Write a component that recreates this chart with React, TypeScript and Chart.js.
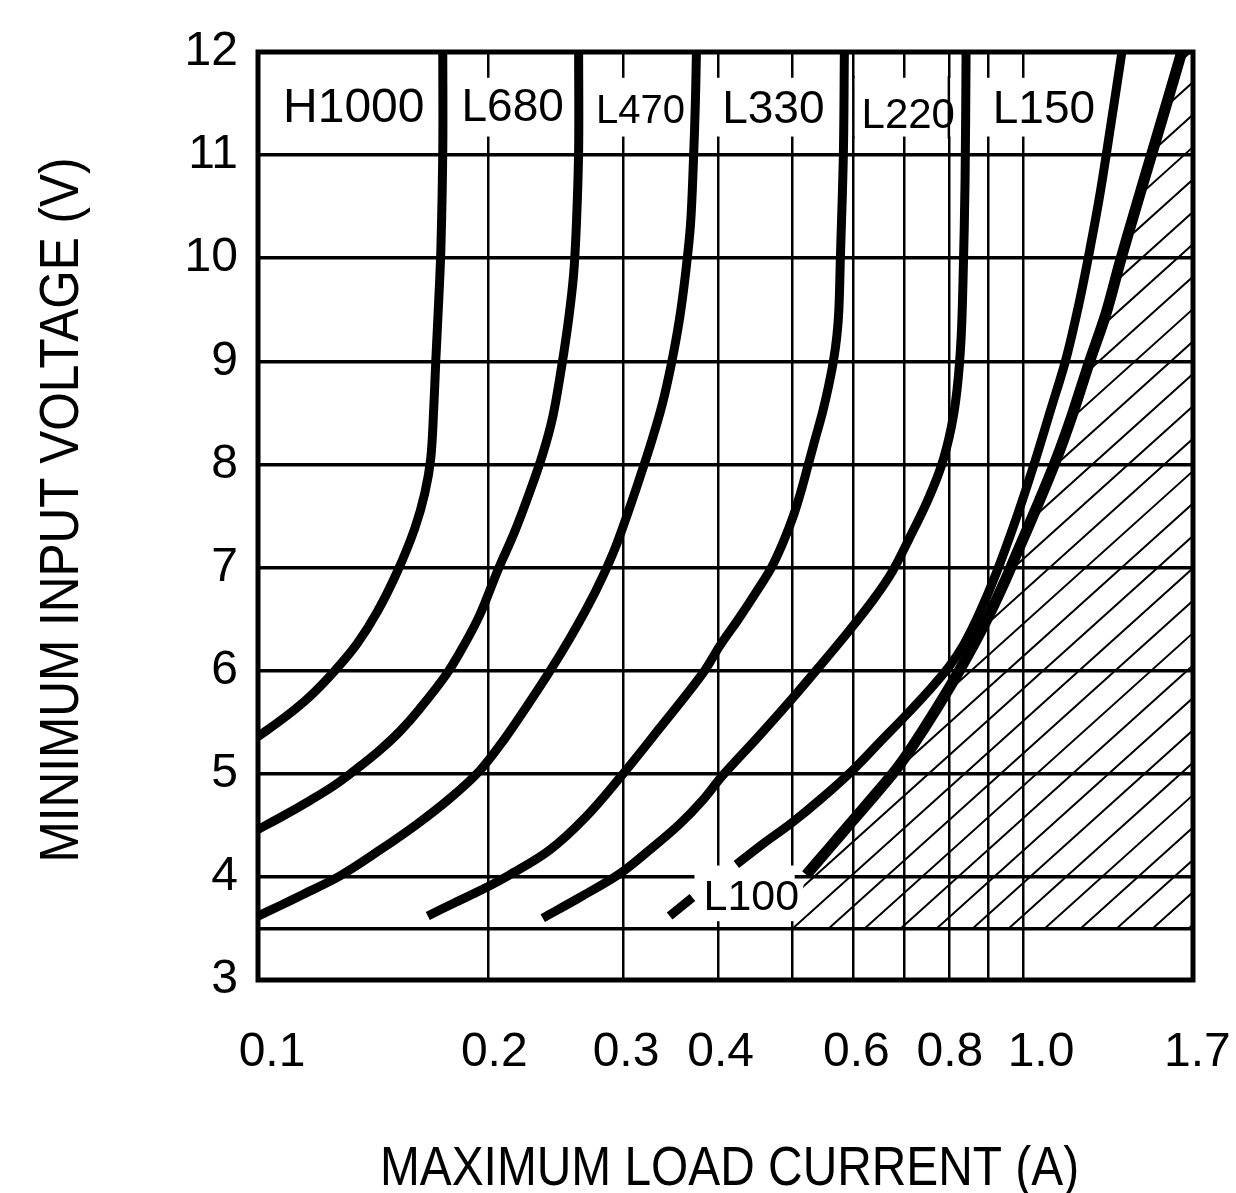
import React, { useEffect, useRef } from 'react';
import { Chart, registerables } from 'chart.js';

Chart.register(...registerables);

// ---- axis ticks ----
const xTickValues = [0.1, 0.2, 0.3, 0.4, 0.5, 0.6, 0.7, 0.8, 0.9, 1.0, 1.7];
const xTickLabels = ['0.1', '0.2', '0.3', '0.4', '', '0.6', '', '0.8', '', '1.0', '1.7'];
const yTickValues = [3, 3.5, 4, 5, 6, 7, 8, 9, 10, 11, 12];
const yTickLabels = ['3', '', '4', '5', '6', '7', '8', '9', '10', '11', '12'];
const xMin = 0.1;
const xMax = 1.668;
const yMin = 3;
const yMax = 12;

const xTitle = 'MAXIMUM LOAD CURRENT (A)';
const yTitle = 'MINIMUM INPUT VOLTAGE (V)';

// ---- curves (x = load current A, y = min input voltage V) ----
const h1000X = [0.1, 0.1085, 0.1169, 0.126, 0.1347, 0.1434, 0.1523, 0.1603, 0.1652, 0.1682, 0.1697, 0.1708, 0.1723, 0.1734, 0.1744, 0.1744];
const h1000Y = [5.36, 5.55, 5.75, 6.0, 6.26, 6.58, 6.97, 7.38, 7.72, 8.06, 8.54, 9.02, 9.6, 10.09, 11.06, 12];

const l680X = [0.1, 0.1078, 0.1169, 0.126, 0.1347, 0.1443, 0.1532, 0.1627, 0.1765, 0.1863, 0.1949, 0.2057, 0.2166, 0.2265, 0.2356, 0.2428, 0.2494, 0.2547, 0.2586, 0.2609, 0.2625, 0.2625];
const l680Y = [4.46, 4.59, 4.74, 4.89, 5.05, 5.23, 5.41, 5.63, 5.97, 6.26, 6.54, 6.97, 7.35, 7.73, 8.1, 8.46, 8.95, 9.41, 9.85, 10.38, 11.06, 12];

const l470X = [0.1, 0.1068, 0.1145, 0.128, 0.1443, 0.1613, 0.1781, 0.1949, 0.2101, 0.2244, 0.2405, 0.2555, 0.2697, 0.2821, 0.2934, 0.3041, 0.3152, 0.3268, 0.3378, 0.3471, 0.3556, 0.3621, 0.3676, 0.3709, 0.3731, 0.3742];
const l470Y = [3.62, 3.72, 3.83, 4.01, 4.26, 4.51, 4.76, 5.03, 5.34, 5.65, 5.99, 6.31, 6.62, 6.91, 7.2, 7.52, 7.86, 8.22, 8.59, 8.98, 9.41, 9.85, 10.33, 10.96, 11.54, 12];

const l330X = [0.1667, 0.1808, 0.1967, 0.2133, 0.2405, 0.2673, 0.297, 0.3348, 0.381, 0.4022, 0.4246, 0.4468, 0.4689, 0.4861, 0.5009, 0.5131, 0.524, 0.5351, 0.5467, 0.5566, 0.5651, 0.5711, 0.5745, 0.5771, 0.5823, 0.5841];
const l330Y = [3.62, 3.75, 3.88, 4.02, 4.26, 4.57, 4.96, 5.44, 5.97, 6.25, 6.5, 6.75, 7.0, 7.25, 7.5, 7.75, 8.0, 8.25, 8.5, 8.75, 9.0, 9.25, 9.5, 10, 11, 12];

const l220X = [0.2356, 0.2633, 0.297, 0.3249, 0.3556, 0.381, 0.4046, 0.4522, 0.4993, 0.5418, 0.5929, 0.6389, 0.6745, 0.7098, 0.7493, 0.7815, 0.8053, 0.82, 0.8299, 0.8349, 0.84, 0.8425];
const l220Y = [3.6, 3.8, 4.03, 4.26, 4.51, 4.74, 4.98, 5.37, 5.73, 6.04, 6.39, 6.7, 6.96, 7.28, 7.64, 7.98, 8.35, 8.73, 9.22, 9.8, 10.77, 12];

const l100DashX = [0.3452, 0.3697];
const l100DashY = [3.62, 3.8];
const l100X = [0.422, 0.459, 0.4978, 0.545, 0.598, 0.6486, 0.7036, 0.7539, 0.8006, 0.8375, 0.8761, 0.922, 0.9792, 1.0336, 1.0878, 1.1379, 1.1835, 1.2232, 1.2605, 1.3029, 1.3467];
const l100Y = [4.12, 4.33, 4.52, 4.76, 5.03, 5.3, 5.57, 5.81, 6.04, 6.26, 6.55, 6.94, 7.47, 8.0, 8.54, 9.02, 9.56, 10.09, 10.62, 11.3, 12];

const l150X = [0.5208, 0.5583, 0.598, 0.6428, 0.6888, 0.7425, 0.8006, 0.8502, 0.9029, 0.9445, 0.9792, 1.0398, 1.1041, 1.1585, 1.2195, 1.2834, 1.3425, 1.4044, 1.4692, 1.5368, 1.6125];
const l150Y = [4.02, 4.28, 4.54, 4.81, 5.08, 5.44, 5.83, 6.17, 6.54, 6.85, 7.12, 7.57, 8.04, 8.47, 8.98, 9.46, 9.99, 10.49, 10.98, 11.47, 12];

const topLabelTexts = ['H1000', 'L680', 'L470', 'L330', 'L220', 'L150'];
const bottomLabelText = 'L100';

// ---- layout / style (not data) ----
const FONT = '"Liberation Sans", Arial, Helvetica, sans-serif';
const topLabelPos = [
  { x: 0.1334, y: 11.49, size: 48 },
  { x: 0.2152, y: 11.49, size: 46 },
  { x: 0.3162, y: 11.45, size: 40 },
  { x: 0.4717, y: 11.47, size: 46 },
  { x: 0.7079, y: 11.41, size: 42 },
  { x: 1.065, y: 11.47, size: 46 },
];
const bottomLabelPos = { x: 0.4414, y: 3.83, size: 43 };
const xLabelShift = [14, 6, 3, 2, 0, 3, 0, 1, 0, 18, -2];

const toPts = (xs: number[], ys: number[]) => xs.map((x, i) => ({ x, y: ys[i] }));

const decorPlugin = {
  id: 'decor',
  beforeDatasetsDraw(chart: any) {
    const { ctx, chartArea: ca } = chart;
    const xs = chart.scales.x;
    const ys = chart.scales.y;
    const X = (v: number) => xs.getPixelForValue(v);
    const Y = (v: number) => ys.getPixelForValue(v);

    ctx.save();
    // white band for top labels
    ctx.fillStyle = '#fff';
    const bandTop = Y(11.75);
    const bandBot = Y(11.18);
    ctx.fillRect(ca.left + 3, bandTop, X(1.0) + 40 - ca.left - 3, bandBot - bandTop);
    // gridlines that stay continuous through the band
    ctx.strokeStyle = '#000';
    ctx.lineWidth = 2.5;
    [0.6, 0.8].forEach((v) => {
      ctx.beginPath();
      ctx.moveTo(X(v), bandTop - 2);
      ctx.lineTo(X(v), bandBot + 2);
      ctx.stroke();
    });
    // white box for bottom label
    ctx.fillStyle = '#fff';
    ctx.fillRect(X(0.372), Y(4.11), X(0.503) - X(0.372), Y(3.57) - Y(4.11));

    // hatched region (right of the boundary curve)
    ctx.save();
    ctx.beginPath();
    ctx.moveTo(X(0.5), Y(3.5));
    for (let i = 0; i < l150X.length; i++) ctx.lineTo(X(l150X[i]), Y(l150Y[i]));
    ctx.lineTo(ca.right, ca.top);
    ctx.lineTo(ca.right, Y(3.5));
    ctx.closePath();
    ctx.clip();
    ctx.strokeStyle = '#000';
    ctx.lineWidth = 2;
    const x0 = X(0.5);
    const yb = Y(3.5);
    const spacing = 36;
    const s = 0.9;
    const L = 2000;
    ctx.beginPath();
    for (let k = -80; k < 80; k++) {
      const xk = x0 + spacing * k;
      ctx.moveTo(xk - L, yb + L * s);
      ctx.lineTo(xk + L, yb - L * s);
    }
    ctx.stroke();
    ctx.restore();

    // labels
    ctx.fillStyle = '#000';
    ctx.textAlign = 'center';
    ctx.textBaseline = 'alphabetic';
    topLabelTexts.forEach((t, i) => {
      const p = topLabelPos[i];
      ctx.font = `${p.size}px ${FONT}`;
      ctx.fillText(t, X(p.x), Y(p.y) + p.size * 0.358);
    });
    ctx.font = `${bottomLabelPos.size}px ${FONT}`;
    ctx.fillText(bottomLabelText, X(bottomLabelPos.x), Y(bottomLabelPos.y) + bottomLabelPos.size * 0.358);
    ctx.restore();
  },
  afterDatasetsDraw(chart: any) {
    const { ctx, chartArea: ca } = chart;
    ctx.save();
    ctx.strokeStyle = '#000';
    ctx.lineWidth = 5;
    ctx.strokeRect(ca.left, ca.top, ca.right - ca.left, ca.bottom - ca.top);
    ctx.restore();
  },
  afterDraw(chart: any) {
    const { ctx, chartArea: ca } = chart;
    const xs = chart.scales.x;
    ctx.save();
    ctx.fillStyle = '#000';
    // x tick labels
    ctx.font = `48px ${FONT}`;
    ctx.textAlign = 'center';
    ctx.textBaseline = 'alphabetic';
    xTickValues.forEach((v, i) => {
      if (!xTickLabels[i]) return;
      ctx.fillText(xTickLabels[i], xs.getPixelForValue(v) + xLabelShift[i], ca.bottom + 86);
    });
    // axis titles
    ctx.font = `55px ${FONT}`;
    ctx.save();
    ctx.translate((ca.left + ca.right) / 2 + 4, 1185);
    ctx.scale(0.87, 1);
    ctx.fillText(xTitle, 0, 0);
    ctx.restore();
    ctx.save();
    ctx.translate(78, (ca.top + ca.bottom) / 2 - 6);
    ctx.rotate(-Math.PI / 2);
    ctx.scale(0.9, 1);
    ctx.fillText(yTitle, 0, 0);
    ctx.restore();
    ctx.restore();
  },
};

export default function App() {
  const ref = useRef<HTMLCanvasElement | null>(null);

  useEffect(() => {
    if (!ref.current) return;
    const line = (label: string, xs: number[], ys: number[], w: number) => ({
      label,
      data: toPts(xs, ys),
      showLine: true,
      borderColor: '#000',
      backgroundColor: '#000',
      borderWidth: w,
      pointRadius: 0,
      tension: 0.35,
      borderCapStyle: 'butt',
      borderJoinStyle: 'round',
      fill: false,
    });
    const chart = new Chart(ref.current, {
      type: 'scatter',
      data: {
        datasets: [
          line('H1000', h1000X, h1000Y, 9),
          line('L680', l680X, l680Y, 9),
          line('L470', l470X, l470Y, 9),
          line('L330', l330X, l330Y, 9),
          line('L220', l220X, l220Y, 9),
          line('L100', l100DashX, l100DashY, 9),
          line('L100 ', l100X, l100Y, 9),
          line('L150', l150X, l150Y, 11),
        ] as any,
      },
      options: {
        animation: false,
        responsive: false,
        devicePixelRatio: 1,
        events: [],
        layout: { padding: { top: 52, right: 43, left: 0, bottom: 0 } },
        plugins: { legend: { display: false }, tooltip: { enabled: false } },
        scales: {
          x: {
            type: 'logarithmic',
            min: xMin,
            max: xMax,
            afterBuildTicks: (scale: any) => {
              scale.ticks = xTickValues.map((v) => ({ value: v }));
            },
            afterFit: (scale: any) => {
              scale.height = 213;
            },
            grid: {
              color: '#000',
              lineWidth: (c: any) => (c.index === 0 || c.index === xTickValues.length - 1 ? 0 : 2.5),
              drawTicks: false,
            },
            border: { display: false },
            ticks: {
              display: false,
              autoSkip: false,
              callback: (_v: any, i: number) => xTickLabels[i],
            },
          },
          y: {
            type: 'linear',
            min: yMin,
            max: yMax,
            afterBuildTicks: (scale: any) => {
              scale.ticks = yTickValues.map((v) => ({ value: v }));
            },
            afterFit: (scale: any) => {
              scale.width = 258;
            },
            grid: {
              color: '#000',
              lineWidth: (c: any) => (c.index === 0 || c.index === yTickValues.length - 1 ? 0 : 3.5),
              drawTicks: false,
            },
            border: { display: false },
            ticks: {
              autoSkip: false,
              padding: 20,
              color: '#000',
              font: { size: 48, family: FONT },
              callback: (_v: any, i: number) => yTickLabels[i],
            },
          },
        },
      } as any,
      plugins: [decorPlugin],
    });
    return () => chart.destroy();
  }, []);

  return (
    <div style={{ position: 'absolute', left: 0, top: 0, width: 1236, height: 1193, background: '#fff' }}>
      <canvas ref={ref} width={1236} height={1193} style={{ width: 1236, height: 1193, display: 'block' }} />
    </div>
  );
}
